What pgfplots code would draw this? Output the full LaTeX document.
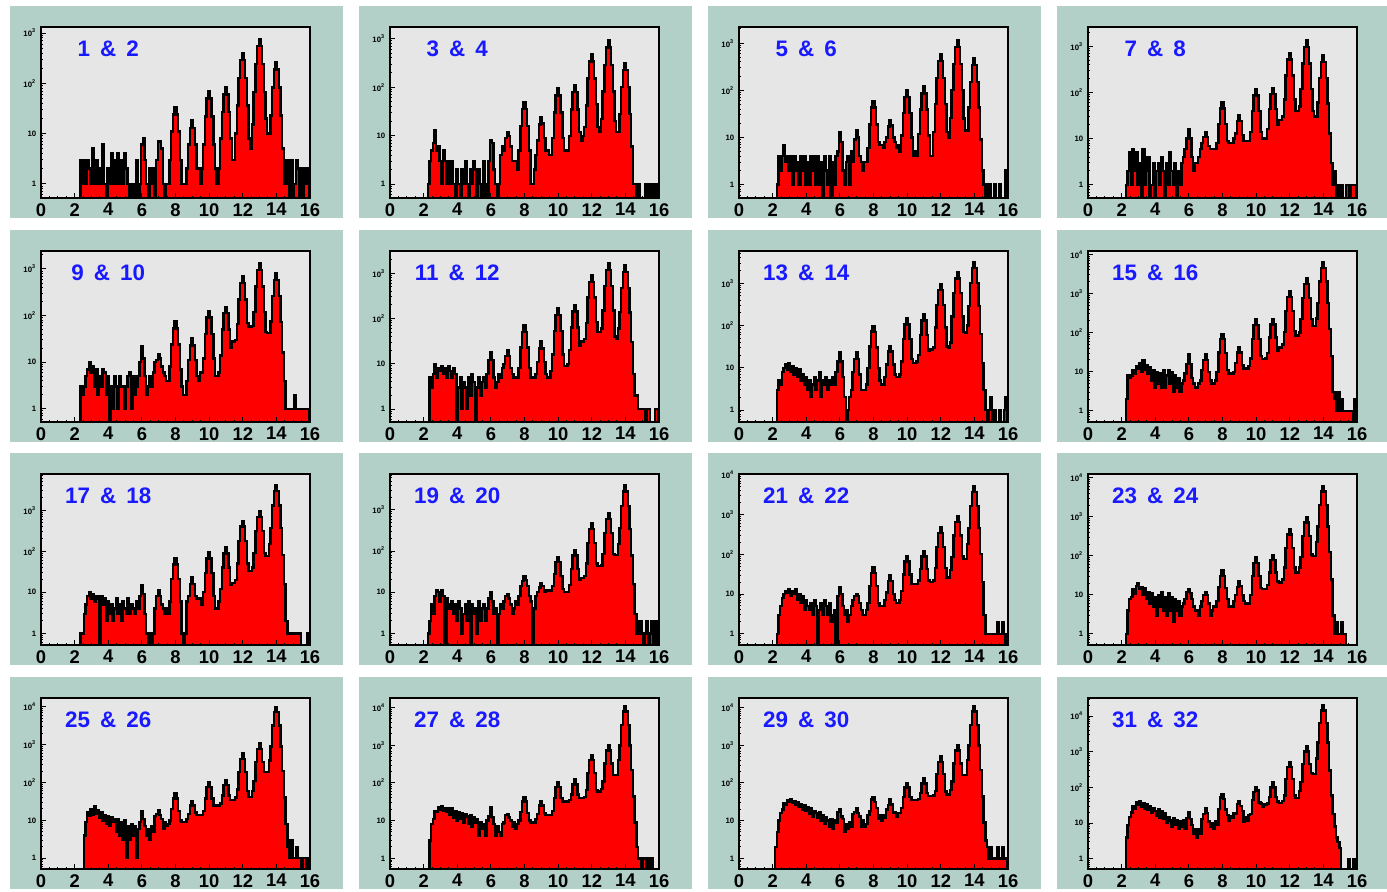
\documentclass[border=0pt]{standalone}
\usepackage{fontspec}
\setmainfont{Liberation Sans}
\usepackage{pgfplots}
\usepackage{pgfplotstable}
\pgfplotsset{compat=1.18}

\definecolor{padteal}{RGB}{178,208,200}
\definecolor{framegray}{RGB}{230,230,230}
\definecolor{tagblue}{RGB}{25,25,255}

% Counts per 0.1-wide bin; bin i starts at 2.15+0.1 i (last row closes the outline).
% An empty bin is stored as 0.1 so that it falls below the log axis.
\pgfplotstableread[row sep=\\,header=false]{
0.1\\0.1\\3\\1\\
3\\1\\3\\2\\1\\5\\1\\3\\1\\2\\
1\\6\\1\\0.1\\2\\1\\4\\1\\3\\1\\
4\\1\\3\\1\\4\\2\\1\\0.1\\1\\0.1\\
1\\3\\0.1\\1\\6\\8\\3\\1\\0.1\\2\\
1\\2\\0.1\\3\\7\\7\\5\\1\\0.1\\1\\
1\\3\\11\\24\\33\\24\\11\\3\\1\\1\\
1\\2\\6\\13\\18\\13\\6\\2\\2\\1\\
2\\6\\22\\50\\70\\50\\22\\6\\2\\1\\
2\\8\\27\\60\\83\\60\\27\\8\\3\\3\\
10\\36\\128\\288\\400\\288\\128\\36\\8\\5\\
15\\68\\243\\547\\760\\547\\243\\68\\20\\10\\
10\\23\\83\\187\\260\\187\\83\\23\\5\\1\\
3\\1\\0.1\\3\\0.1\\1\\3\\2\\0.1\\2\\
0.1\\2\\1\\2\\0.1\\
}\histA
\pgfplotstableread[row sep=\\,header=false]{
0.1\\1\\3\\5\\
7\\13\\5\\6\\3\\1\\5\\3\\1\\3\\
1\\3\\1\\0.1\\2\\1\\0.1\\2\\1\\3\\
1\\0.1\\2\\1\\3\\2\\0.1\\2\\1\\0.1\\
3\\1\\0.1\\3\\8\\7\\2\\1\\0.1\\1\\
4\\6\\5\\9\\12\\10\\6\\3\\3\\3\\
2\\5\\16\\36\\50\\36\\16\\5\\1\\1\\
2\\4\\8\\17\\24\\18\\9\\5\\5\\4\\
4\\9\\30\\68\\94\\68\\30\\9\\5\\5\\
5\\10\\35\\79\\110\\79\\35\\12\\8\\10\\
15\\42\\150\\340\\470\\340\\150\\45\\15\\12\\
22\\82\\290\\655\\910\\655\\290\\82\\20\\12\\
12\\28\\100\\227\\315\\227\\100\\28\\6\\1\\
1\\0.1\\1\\0.1\\0.1\\0.1\\1\\0.1\\1\\0.1\\
1\\0.1\\1\\0.1\\0.1\\
}\histB
\pgfplotstableread[row sep=\\,header=false]{
0.1\\1\\4\\2\\
4\\7\\3\\4\\2\\4\\1\\4\\2\\3\\
1\\4\\2\\4\\1\\3\\1\\4\\2\\4\\
1\\4\\1\\3\\0.1\\4\\2\\1\\4\\0.1\\
3\\1\\4\\5\\13\\8\\2\\1\\3\\4\\
1\\5\\3\\9\\14\\10\\4\\3\\2\\3\\
3\\6\\19\\43\\60\\43\\19\\8\\7\\7\\
6\\8\\10\\17\\23\\18\\10\\8\\6\\7\\
5\\11\\33\\72\\100\\72\\33\\10\\4\\5\\
4\\12\\39\\86\\120\\86\\39\\11\\4\\4\\
13\\52\\184\\414\\575\\414\\184\\52\\13\\10\\
26\\103\\365\\820\\1140\\820\\365\\103\\25\\14\\
14\\43\\152\\342\\475\\342\\152\\43\\9\\2\\
1\\0.1\\0.1\\1\\0.1\\0.1\\1\\0.1\\0.1\\1\\
0.1\\0.1\\0.1\\2\\0.1\\
}\histC
\pgfplotstableread[row sep=\\,header=false]{
0.1\\1\\2\\5\\
1\\6\\2\\5\\1\\3\\0.1\\6\\1\\2\\
4\\0.1\\1\\3\\0.1\\2\\3\\1\\4\\2\\
0.1\\3\\1\\5\\2\\1\\3\\0.1\\2\\1\\
3\\4\\6\\10\\16\\10\\4\\2\\3\\3\\
4\\6\\8\\11\\14\\11\\7\\6\\6\\6\\
6\\8\\21\\45\\61\\45\\21\\9\\8\\8\\
8\\10\\13\\24\\32\\24\\12\\9\\9\\9\\
9\\14\\40\\85\\118\\85\\40\\14\\10\\10\\
10\\16\\44\\92\\125\\92\\44\\20\\25\\25\\
30\\70\\230\\520\\720\\520\\230\\70\\40\\40\\
50\\120\\420\\950\\1320\\950\\420\\120\\40\\30\\
30\\60\\205\\460\\640\\460\\205\\58\\13\\3\\
1\\2\\0.1\\1\\0.1\\1\\0.1\\0.1\\1\\1\\
0.1\\1\\1\\1\\0.1\\
}\histD
\pgfplotstableread[row sep=\\,header=false]{
0.1\\0.1\\3\\2\\
3\\5\\7\\10\\6\\8\\3\\7\\2\\5\\
3\\7\\6\\2\\5\\0.1\\3\\1\\5\\3\\
1\\5\\3\\3\\1\\3\\5\\6\\1\\5\\
2\\3\\5\\10\\22\\12\\5\\2\\3\\5\\
3\\6\\10\\11\\15\\12\\8\\6\\5\\4\\
4\\8\\24\\53\\74\\53\\24\\7\\3\\2\\
2\\4\\11\\23\\32\\23\\11\\5\\4\\6\\
6\\12\\40\\91\\126\\91\\40\\12\\5\\5\\
6\\14\\50\\112\\155\\112\\50\\20\\28\\28\\
30\\65\\221\\497\\690\\497\\221\\70\\58\\58\\
60\\120\\422\\950\\1320\\950\\422\\120\\45\\42\\
42\\75\\260\\583\\810\\583\\260\\73\\16\\4\\
1\\1\\1\\1\\1\\2\\1\\1\\1\\1\\
1\\1\\1\\1\\0.1\\
}\histE
\pgfplotstableread[row sep=\\,header=false]{
0.1\\0.1\\5\\3\\
6\\10\\5\\8\\7\\9\\6\\8\\5\\9\\
7\\5\\8\\6\\0.1\\3\\5\\1\\4\\3\\
1\\5\\2\\6\\4\\0.1\\3\\5\\2\\4\\
5\\3\\6\\12\\18\\12\\5\\3\\4\\6\\
5\\8\\10\\15\\20\\15\\8\\6\\5\\5\\
5\\8\\23\\51\\71\\51\\23\\8\\5\\5\\
5\\6\\11\\22\\31\\22\\11\\6\\5\\5\\
7\\16\\53\\120\\166\\120\\53\\16\\9\\9\\
10\\20\\63\\142\\197\\142\\63\\25\\31\\31\\
35\\80\\290\\650\\900\\650\\290\\85\\50\\50\\
60\\150\\520\\1170\\1630\\1170\\520\\150\\40\\36\\
60\\140\\480\\1080\\1500\\1080\\480\\135\\30\\6\\
2\\2\\1\\1\\1\\1\\0.1\\1\\1\\0.1\\
0.1\\0.1\\1\\1\\0.1\\
}\histF
\pgfplotstableread[row sep=\\,header=false]{
0.1\\3\\5\\4\\
8\\10\\12\\9\\13\\8\\11\\7\\10\\6\\
9\\5\\7\\4\\6\\3\\5\\2\\4\\6\\
3\\5\\8\\2\\5\\4\\6\\3\\5\\4\\
6\\4\\8\\14\\23\\14\\6\\2\\0.1\\1\\
2\\3\\8\\16\\23\\16\\7\\3\\3\\3\\
4\\10\\32\\72\\95\\70\\30\\10\\5\\4\\
4\\6\\12\\24\\32\\24\\12\\7\\6\\6\\
7\\14\\48\\106\\148\\106\\48\\16\\13\\13\\
14\\20\\60\\132\\182\\132\\60\\25\\27\\27\\
30\\90\\305\\685\\950\\685\\305\\90\\32\\30\\
40\\165\\580\\1310\\1820\\1310\\580\\165\\70\\68\\
100\\290\\1020\\2300\\3200\\2300\\1020\\290\\64\\13\\
3\\1\\0.1\\1\\2\\0.1\\1\\0.1\\0.1\\1\\
0.1\\0.1\\1\\2\\0.1\\
}\histG
\pgfplotstableread[row sep=\\,header=false]{
0.1\\2\\8\\7\\
8\\11\\9\\14\\12\\17\\10\\20\\11\\15\\
9\\13\\6\\11\\4\\10\\5\\9\\4\\11\\
4\\8\\11\\5\\10\\3\\8\\4\\7\\3\\
5\\6\\9\\16\\28\\16\\7\\5\\4\\4\\
5\\6\\11\\20\\28\\20\\10\\6\\5\\5\\
6\\10\\31\\68\\93\\68\\30\\11\\9\\9\\
9\\10\\17\\31\\42\\31\\15\\12\\12\\12\\
14\\22\\70\\155\\215\\155\\70\\25\\21\\21\\
22\\30\\75\\162\\224\\162\\75\\35\\42\\42\\
50\\105\\360\\810\\1120\\810\\360\\110\\85\\84\\
100\\220\\770\\1730\\2400\\1730\\770\\220\\150\\150\\
230\\570\\2020\\4540\\6300\\4540\\2020\\570\\126\\25\\
3\\2\\1\\3\\1\\2\\1\\1\\1\\1\\
1\\1\\0.1\\2\\0.1\\
}\histH
\pgfplotstableread[row sep=\\,header=false]{
0.1\\0.1\\1\\1\\
3\\5\\8\\10\\7\\9\\6\\8\\7\\0.1\\
8\\5\\7\\2\\6\\3\\5\\2\\4\\7\\
3\\5\\2\\6\\4\\3\\7\\3\\5\\4\\
3\\6\\4\\8\\15\\9\\3\\1\\0.1\\1\\
0.1\\1\\4\\8\\11\\8\\5\\4\\3\\4\\
3\\6\\21\\48\\66\\48\\21\\6\\1\\0.1\\
1\\6\\8\\16\\23\\16\\8\\7\\7\\7\\
5\\10\\30\\67\\93\\67\\30\\8\\4\\4\\
6\\12\\40\\89\\123\\89\\40\\15\\17\\17\\
20\\50\\176\\396\\550\\396\\176\\50\\33\\33\\
40\\90\\307\\690\\960\\690\\307\\90\\77\\77\\
150\\370\\1300\\2930\\4070\\2930\\1300\\366\\80\\16\\
2\\1\\1\\1\\1\\1\\1\\1\\1\\0.1\\
0.1\\0.1\\0.1\\1\\0.1\\
}\histI
\pgfplotstableread[row sep=\\,header=false]{
0.1\\1\\2\\5\\
3\\8\\11\\10\\6\\11\\8\\0.1\\7\\5\\
4\\6\\3\\5\\2\\6\\4\\1\\3\\5\\
2\\6\\0.1\\5\\3\\4\\1\\6\\2\\4\\
5\\2\\4\\7\\10\\6\\3\\4\\0.1\\3\\
5\\4\\6\\8\\9\\7\\5\\3\\4\\6\\
5\\8\\14\\19\\24\\20\\14\\8\\6\\0.1\\
4\\8\\10\\13\\17\\14\\10\\11\\11\\11\\
11\\14\\28\\55\\71\\55\\25\\12\\10\\10\\
10\\15\\37\\79\\107\\79\\37\\20\\22\\22\\
25\\50\\155\\340\\470\\340\\155\\50\\43\\43\\
45\\85\\275\\612\\850\\612\\275\\85\\81\\81\\
150\\360\\1250\\2800\\3900\\2800\\1250\\350\\78\\16\\
3\\1\\1\\2\\1\\0.1\\1\\2\\0.1\\1\\
2\\0.1\\2\\0.1\\0.1\\
}\histJ
\pgfplotstableread[row sep=\\,header=false]{
0.1\\1\\3\\5\\
8\\10\\12\\11\\13\\9\\12\\10\\13\\7\\
10\\6\\9\\4\\7\\5\\4\\6\\3\\7\\
5\\0.1\\4\\6\\3\\7\\5\\3\\6\\2\\
3\\4\\0.1\\9\\15\\10\\5\\3\\4\\2\\
3\\5\\7\\9\\10\\9\\6\\4\\3\\3\\
4\\6\\16\\34\\46\\34\\16\\6\\5\\5\\
5\\7\\11\\21\\29\\21\\10\\7\\6\\6\\
7\\12\\31\\66\\91\\66\\31\\18\\18\\18\\
18\\22\\42\\87\\120\\87\\42\\22\\20\\20\\
22\\45\\155\\340\\470\\340\\155\\45\\26\\26\\
40\\85\\295\\655\\910\\655\\295\\90\\75\\75\\
180\\460\\1640\\3670\\5100\\3670\\1640\\460\\100\\20\\
3\\1\\1\\1\\1\\1\\1\\1\\2\\1\\
1\\2\\1\\0.1\\0.1\\
}\histK
\pgfplotstableread[row sep=\\,header=false]{
0.1\\1\\4\\8\\
9\\14\\11\\17\\20\\14\\16\\10\\15\\8\\
12\\6\\11\\5\\9\\3\\10\\5\\12\\4\\
9\\3\\11\\4\\9\\2\\8\\4\\7\\3\\
5\\6\\8\\12\\14\\11\\8\\5\\4\\4\\
3\\5\\7\\10\\12\\10\\6\\3\\4\\5\\
5\\7\\16\\31\\42\\31\\15\\8\\5\\5\\
5\\7\\10\\16\\22\\17\\10\\7\\6\\6\\
6\\10\\31\\67\\93\\67\\31\\15\\14\\14\\
14\\18\\38\\78\\107\\78\\38\\22\\21\\21\\
25\\50\\160\\355\\490\\355\\160\\50\\38\\38\\
50\\95\\325\\720\\1000\\720\\325\\110\\100\\100\\
230\\570\\2020\\4540\\6300\\4540\\2020\\570\\126\\25\\
3\\1\\2\\1\\1\\2\\1\\1\\0.1\\0.1\\
0.1\\0.1\\0.1\\0.1\\0.1\\
}\histL
\pgfplotstableread[row sep=\\,header=false]{
0.1\\0.1\\0.1\\0.1\\
4\\9\\16\\13\\20\\14\\23\\15\\19\\12\\
16\\10\\14\\8\\13\\7\\12\\9\\11\\5\\
11\\4\\9\\3\\10\\1\\7\\3\\8\\4\\
7\\1\\6\\9\\17\\11\\7\\4\\6\\3\\
7\\5\\13\\15\\19\\14\\11\\6\\9\\7\\
8\\10\\20\\38\\51\\38\\18\\10\\9\\9\\
9\\11\\15\\25\\32\\25\\16\\14\\14\\14\\
14\\18\\38\\75\\100\\75\\38\\25\\25\\25\\
25\\28\\45\\85\\115\\85\\45\\35\\35\\35\\
40\\65\\190\\420\\580\\420\\190\\60\\42\\42\\
60\\110\\350\\770\\1070\\770\\350\\190\\190\\190\\
380\\900\\3200\\7200\\10000\\7200\\3200\\900\\200\\40\\
8\\2\\1\\3\\1\\1\\2\\1\\1\\0.1\\
1\\1\\0.1\\1\\0.1\\
}\histM
\pgfplotstableread[row sep=\\,header=false]{
0.1\\0.1\\3\\8\\
11\\18\\17\\23\\19\\24\\18\\21\\17\\22\\
14\\21\\12\\18\\10\\17\\11\\16\\9\\15\\
13\\8\\14\\7\\12\\9\\11\\4\\9\\6\\
8\\4\\10\\13\\23\\12\\8\\4\\7\\5\\
4\\8\\9\\14\\15\\12\\10\\7\\9\\6\\
8\\10\\17\\32\\43\\32\\16\\10\\9\\9\\
9\\11\\15\\25\\32\\25\\16\\14\\14\\14\\
14\\18\\40\\78\\105\\78\\40\\32\\32\\32\\
32\\35\\50\\92\\126\\92\\50\\40\\40\\40\\
42\\65\\185\\405\\560\\405\\185\\65\\59\\59\\
70\\110\\330\\720\\1000\\720\\330\\165\\160\\160\\
400\\1000\\3500\\7900\\11000\\7900\\3500\\990\\220\\44\\
9\\2\\1\\1\\0.1\\1\\1\\0.1\\1\\0.1\\
1\\0.1\\0.1\\0.1\\0.1\\
}\histN
\pgfplotstableread[row sep=\\,header=false]{
2\\5\\10\\16\\
20\\29\\27\\35\\31\\36\\30\\33\\26\\31\\
23\\27\\19\\25\\18\\23\\15\\22\\13\\18\\
16\\12\\17\\10\\14\\8\\12\\10\\7\\11\\
6\\10\\9\\17\\20\\13\\11\\5\\8\\6\\
9\\7\\15\\17\\22\\16\\13\\7\\10\\7\\
8\\14\\18\\36\\43\\31\\22\\11\\14\\10\\
14\\12\\20\\26\\36\\27\\16\\17\\13\\16\\
16\\22\\42\\76\\100\\76\\42\\35\\35\\35\\
35\\38\\55\\96\\130\\96\\55\\45\\45\\45\\
46\\62\\170\\360\\500\\360\\170\\60\\50\\50\\
65\\110\\330\\720\\1000\\720\\330\\165\\160\\160\\
400\\1000\\3500\\7900\\11000\\7900\\3500\\990\\220\\44\\
9\\3\\2\\1\\2\\1\\1\\1\\2\\1\\
1\\2\\1\\1\\0.1\\
}\histO
\pgfplotstableread[row sep=\\,header=false]{
0.1\\4\\9\\15\\
20\\30\\26\\38\\32\\40\\28\\36\\25\\33\\
24\\30\\19\\27\\22\\16\\25\\14\\21\\13\\
19\\10\\15\\12\\8\\14\\9\\12\\7\\11\\
8\\12\\7\\14\\20\\13\\9\\5\\7\\4\\
7\\5\\13\\18\\27\\19\\11\\8\\10\\7\\
11\\9\\25\\52\\65\\47\\24\\17\\12\\16\\
14\\19\\18\\35\\42\\30\\22\\11\\15\\12\\
17\\18\\45\\76\\105\\82\\38\\36\\28\\34\\
33\\36\\55\\101\\138\\101\\55\\40\\37\\37\\
42\\60\\170\\370\\510\\370\\170\\60\\51\\51\\
80\\140\\460\\1010\\1400\\1010\\460\\250\\240\\240\\
650\\1800\\6400\\14400\\20000\\14400\\6400\\1800\\300\\60\\
18\\8\\4\\3\\2\\0.1\\0.1\\0.1\\0.1\\1\\
0.1\\0.1\\1\\0.1\\0.1\\
}\histP

% decade labels: 1, 10, 10^2, 10^3, ...
\newcommand{\decadelabel}{%
  \pgfmathtruncatemacro\decexp{round(\tick/2.302585093)}%
  \ifnum\decexp=0 1\else\ifnum\decexp=1 10\else 10\textsuperscript{\decexp}\fi\fi}
\newcommand{\tagsp}{\hspace{0.45em}}
\newcommand{\xlabfont}{\fontsize{9.2}{9.2}\selectfont\bfseries}
\newcommand{\ylabfont}{\fontsize{3.9}{3.9}\selectfont\bfseries}
\newcommand{\tagfont}{\fontsize{11.2}{11.2}\selectfont\bfseries}

% one pad: shaded backdrop plus a log-scale histogram frame
\newcommand{\drawpad}[5]{%
  \fill[padteal] (#1,#2) rectangle ++(166.5pt,-106pt);
  \begin{axis}[
    at={(#1+15.5pt,#2-10.5pt)}, anchor=north west,
    scale only axis, width=134.5pt, height=85.5pt,
    ymode=log, xmin=0, xmax=16, ymin=0.52, ymax=#3,
    log origin y=infty, axis on top,
    axis background/.style={fill=framegray},
    axis line style={black, line width=0.9pt},
    xtick={0,2,4,6,8,10,12,14,16}, minor x tick num=3,
    ytick={1,10,100,1000,10000},
    minor ytick={0.6,0.7,0.8,0.9,2,3,4,5,6,7,8,9,20,30,40,50,60,70,80,90,200,300,400,500,600,700,800,900,2000,3000,4000,5000,6000,7000,8000,9000,20000,30000},
    xtick pos=left, ytick pos=left, tick align=inside,
    major tick length=2.4pt, minor tick length=1.2pt,
    tick style={black, line width=0.5pt},
    xticklabel={\pgfmathprintnumber[assume math mode=true]{\tick}},
    xticklabel style={font=\xlabfont, inner sep=0pt, yshift=-2.4pt},
    yticklabel={\decadelabel},
    yticklabel style={font=\ylabfont, inner sep=0pt, xshift=-2.2pt},
  ]
    \addplot[const plot, fill=red, draw=black, line width=1.2pt]
      table[x expr=\coordindex*0.1+2.15, y index=0] {#4} \closedcycle;
    \node[font=\tagfont, text=tagblue] at (rel axis cs:0.25,0.87) {#5};
  \end{axis}}

\begin{document}
\begin{tikzpicture}
  \path[use as bounding box] (0,0) rectangle (693.5pt,-445.5pt);
  \fill[white] (0,0) rectangle (693.5pt,-445.5pt);
  % row 1
  \drawpad{5pt}{-3pt}{1320}{\histA}{1\tagsp\&\tagsp2}
  \drawpad{179.5pt}{-3pt}{1740}{\histB}{3\tagsp\&\tagsp4}
  \drawpad{354pt}{-3pt}{2200}{\histC}{5\tagsp\&\tagsp6}
  \drawpad{528.5pt}{-3pt}{2600}{\histD}{7\tagsp\&\tagsp8}
  % row 2
  \drawpad{5pt}{-115pt}{2430}{\histE}{9\tagsp\&\tagsp10}
  \drawpad{179.5pt}{-115pt}{3100}{\histF}{11\tagsp\&\tagsp12}
  \drawpad{354pt}{-115pt}{5800}{\histG}{13\tagsp\&\tagsp14}
  \drawpad{528.5pt}{-115pt}{12200}{\histH}{15\tagsp\&\tagsp16}
  % row 3
  \drawpad{5pt}{-226.5pt}{7600}{\histI}{17\tagsp\&\tagsp18}
  \drawpad{179.5pt}{-226.5pt}{7500}{\histJ}{19\tagsp\&\tagsp20}
  \drawpad{354pt}{-226.5pt}{10500}{\histK}{21\tagsp\&\tagsp22}
  \drawpad{528.5pt}{-226.5pt}{12600}{\histL}{23\tagsp\&\tagsp24}
  % row 4
  \drawpad{5pt}{-338.5pt}{17000}{\histM}{25\tagsp\&\tagsp26}
  \drawpad{179.5pt}{-338.5pt}{18000}{\histN}{27\tagsp\&\tagsp28}
  \drawpad{354pt}{-338.5pt}{18000}{\histO}{29\tagsp\&\tagsp30}
  \drawpad{528.5pt}{-338.5pt}{32000}{\histP}{31\tagsp\&\tagsp32}
\end{tikzpicture}
\end{document}
